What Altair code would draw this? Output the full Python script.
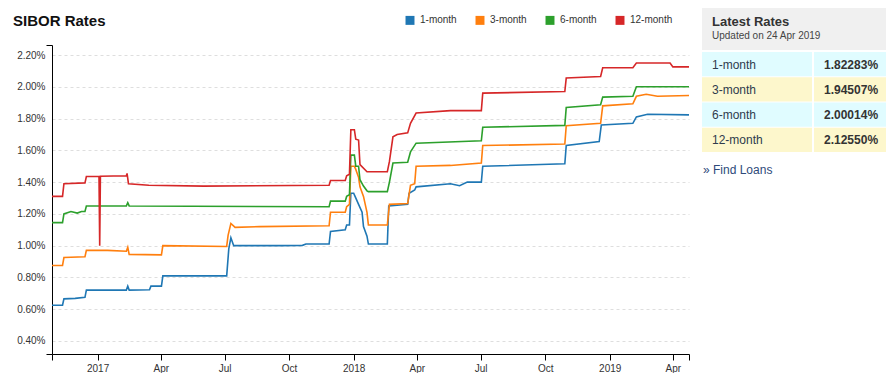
import altair as alt
import pandas as pd

FONT = "Liberation Sans"

series_names = ["1-month", "3-month", "6-month", "12-month"]
series_colors = ["#1f77b4", "#ff7f0e", "#2ca02c", "#d62728"]

blue_dates = ["2016-10-28", "2016-11-12", "2016-11-14", "2016-11-30", "2016-12-14", "2016-12-16",
              "2017-02-11", "2017-02-13", "2017-02-15", "2017-03-16", "2017-03-18", "2017-04-02",
              "2017-04-04", "2017-07-04", "2017-07-07", "2017-07-10", "2017-07-14", "2017-09-20",
              "2017-10-20", "2017-10-25", "2017-11-27", "2017-11-29", "2017-12-20", "2017-12-22",
              "2017-12-26", "2017-12-28", "2018-01-01", "2018-01-03", "2018-01-08", "2018-01-13",
              "2018-01-15", "2018-01-20", "2018-01-22", "2018-02-18", "2018-02-20", "2018-03-19",
              "2018-03-21", "2018-03-29", "2018-03-31", "2018-05-19", "2018-06-01", "2018-06-12",
              "2018-07-02", "2018-07-04", "2018-10-29", "2018-10-31", "2018-12-17", "2018-12-20",
              "2019-02-03", "2019-02-08", "2019-02-24", "2019-04-24"]
blue_vals = [0.625, 0.625, 0.665, 0.668, 0.675, 0.72,
             0.72, 0.745, 0.72, 0.722, 0.745, 0.745,
             0.81, 0.81, 0.98, 1.05, 1.00, 1.00,
             1.002, 1.01, 1.01, 1.09, 1.10, 1.13,
             1.13, 1.33, 1.33, 1.31, 1.26, 1.21,
             1.12, 1.06, 1.01, 1.01, 1.25, 1.26,
             1.33, 1.35, 1.37, 1.39, 1.377, 1.40,
             1.40, 1.50, 1.515, 1.63, 1.655, 1.76,
             1.77, 1.81, 1.827, 1.823]

orange_dates = ["2016-10-28", "2016-11-12", "2016-11-14", "2016-12-14", "2016-12-16", "2017-01-15",
                "2017-02-11", "2017-02-13", "2017-02-15", "2017-04-02", "2017-04-04", "2017-07-04",
                "2017-07-06", "2017-07-10", "2017-07-16", "2017-08-20", "2017-11-27", "2017-11-29",
                "2017-12-20", "2017-12-22", "2017-12-26", "2017-12-28", "2018-01-02", "2018-01-04",
                "2018-01-08", "2018-01-10", "2018-01-15", "2018-01-20", "2018-01-22", "2018-02-18",
                "2018-02-21", "2018-03-19", "2018-03-23", "2018-03-29", "2018-03-31", "2018-05-19",
                "2018-07-02", "2018-07-04", "2018-10-29", "2018-10-31", "2018-12-19", "2018-12-22",
                "2019-02-03", "2019-02-08", "2019-02-22", "2019-03-10", "2019-04-24"]
orange_vals = [0.875, 0.875, 0.925, 0.93, 0.97, 0.97,
               0.965, 0.99, 0.945, 0.942, 1.00, 0.995,
               1.065, 1.14, 1.115, 1.12, 1.125, 1.21,
               1.21, 1.245, 1.26, 1.50, 1.50, 1.48,
               1.43, 1.37, 1.31, 1.21, 1.13, 1.13,
               1.26, 1.265, 1.38, 1.39, 1.50, 1.505,
               1.52, 1.63, 1.64, 1.755, 1.77, 1.88,
               1.893, 1.94, 1.953, 1.94, 1.945]

green_dates = ["2016-10-28", "2016-11-12", "2016-11-14", "2016-11-24", "2016-12-03", "2016-12-09",
               "2016-12-14", "2016-12-16", "2017-02-11", "2017-02-13", "2017-02-15", "2017-11-27",
               "2017-11-29", "2017-12-20", "2017-12-22", "2017-12-26", "2017-12-28", "2018-01-02",
               "2018-01-04", "2018-01-08", "2018-01-10", "2018-01-15", "2018-01-20", "2018-01-22",
               "2018-02-18", "2018-02-21", "2018-02-26", "2018-03-19", "2018-03-23", "2018-03-31",
               "2018-07-02", "2018-07-04", "2018-10-29", "2018-10-31", "2018-12-19", "2018-12-22",
               "2019-02-03", "2019-02-08", "2019-04-24"]
green_vals = [1.145, 1.145, 1.20, 1.215, 1.205, 1.215,
              1.215, 1.25, 1.25, 1.27, 1.25, 1.245,
              1.28, 1.28, 1.31, 1.32, 1.57, 1.57,
              1.50, 1.50, 1.415, 1.375, 1.345, 1.34,
              1.34, 1.40, 1.52, 1.525, 1.59, 1.645,
              1.66, 1.745, 1.757, 1.87, 1.887, 1.935,
              1.94, 2.00, 2.00]

red_dates = ["2016-10-28", "2016-11-12", "2016-11-14", "2016-12-14", "2016-12-16", "2017-01-03",
             "2017-01-04", "2017-01-05", "2017-02-11", "2017-02-12", "2017-02-14", "2017-03-15",
             "2017-06-01", "2017-11-27", "2017-11-29", "2017-12-20", "2017-12-22", "2017-12-26",
             "2017-12-28", "2018-01-02", "2018-01-04", "2018-01-08", "2018-01-10", "2018-01-20",
             "2018-02-18", "2018-02-21", "2018-02-26", "2018-03-04", "2018-03-19", "2018-03-23",
             "2018-03-31", "2018-05-19", "2018-07-02", "2018-07-04", "2018-10-29", "2018-10-31",
             "2018-12-19", "2018-12-22", "2019-02-03", "2019-02-08", "2019-03-28", "2019-04-01",
             "2019-04-24"]
red_vals = [1.31, 1.31, 1.39, 1.395, 1.435, 1.435,
            1.00, 1.437, 1.44, 1.455, 1.39, 1.38,
            1.375, 1.38, 1.41, 1.41, 1.44, 1.45,
            1.73, 1.73, 1.67, 1.665, 1.51, 1.465,
            1.465, 1.53, 1.685, 1.70, 1.71, 1.77,
            1.835, 1.85, 1.85, 1.96, 1.97, 2.055,
            2.065, 2.12, 2.12, 2.15, 2.15, 2.125,
            2.1255]

y_ticks = [0.318, 0.4, 0.6, 0.8, 1.0, 1.2, 1.4, 1.6, 1.8, 2.0, 2.2, 2.263]
x_ticks = ["2016-10-28", "2017-01-01", "2017-04-01", "2017-07-01", "2017-10-01", "2018-01-01",
           "2018-04-01", "2018-07-01", "2018-10-01", "2019-01-01", "2019-04-01", "2019-04-24"]

chart_title = "SIBOR Rates"
panel_title = "Latest Rates"
panel_subtitle = "Updated on 24 Apr 2019"
rate_labels = ["1-month", "3-month", "6-month", "12-month"]
rate_values = [1.82283, 1.94507, 2.00014, 2.12550]
link_text = "» Find Loans"

# ---------- data tables ----------
rows = []
for name, ds, vs in zip(series_names,
                        [blue_dates, orange_dates, green_dates, red_dates],
                        [blue_vals, orange_vals, green_vals, red_vals]):
    for d, v in zip(ds, vs):
        rows.append({"series": name, "date": d, "rate": v})
rates_df = pd.DataFrame(rows)


def dt(s):
    y, m, d = (int(p) for p in s.split("-"))
    return alt.DateTime(year=y, month=m, date=d, utc=True)


ends_test = "datum.value < 0.35 || datum.value > 2.25"

lines = alt.Chart(rates_df).mark_line(strokeWidth=1.6).encode(
    x=alt.X("date:T", title=None,
            scale=alt.Scale(type="utc", domain=[dt(x_ticks[0]), dt(x_ticks[-1])], nice=False),
            axis=alt.Axis(values=[dt(s) for s in x_ticks],
                          labelExpr="utcdate(datum.value) == 1 ? (utcmonth(datum.value) == 0 ? utcFormat(datum.value, '%Y') : utcFormat(datum.value, '%b')) : ''",
                          grid=False, tickSize=6, tickColor="#000", domainColor="#000",
                          labelFont=FONT, labelFontSize=10, labelColor="#333", labelPadding=3,
                          labelOverlap=False, labelFlush=False)),
    y=alt.Y("rate:Q", title=None,
            scale=alt.Scale(domain=[y_ticks[0], y_ticks[-1]], nice=False, zero=False),
            axis=alt.Axis(values=y_ticks,
                          labelExpr=f"({ends_test}) ? '' : format(datum.value, '.2f') + '%'",
                          tickSize=6, tickColor="#000", domainColor="#000",
                          tickOpacity={"condition": {"test": ends_test, "value": 1}, "value": 0},
                          grid=True, gridColor="#dedede", gridDash=[3, 3],
                          gridOpacity={"condition": {"test": ends_test, "value": 0}, "value": 1},
                          labelFont=FONT, labelFontSize=10, labelColor="#333", labelPadding=1,
                          labelOverlap=False, labelFlush=False)),
    color=alt.Color("series:N",
                    scale=alt.Scale(domain=series_names, range=series_colors),
                    legend=alt.Legend(title=None, orient="none", legendX=353, legendY=-30,
                                      direction="horizontal", symbolType="square",
                                      symbolSize=20, symbolStrokeWidth=4.5, symbolOpacity=1,
                                      labelFont=FONT, labelFontSize=10, labelColor="#333",
                                      labelOffset=5, columnPadding=11)),
)

title_text = alt.Chart(pd.DataFrame({"t": [chart_title]})).mark_text(
    align="left", baseline="alphabetic", font=FONT, fontSize=15, fontWeight="bold", color="#111"
).encode(x=alt.value(-39), y=alt.value(-19), text="t:N")

# ---------- right panel ----------
header_box = alt.Chart(pd.DataFrame({"t": [panel_title]})).mark_rect(fill="#f0f0f0").encode(
    x=alt.value(650), x2=alt.value(834), y=alt.value(-38), y2=alt.value(5))

header_title = alt.Chart(pd.DataFrame({"t": [panel_title]})).mark_text(
    align="left", baseline="alphabetic", font=FONT, fontSize=13, fontWeight="bold", color="#333"
).encode(x=alt.value(660), y=alt.value(-19.5), text="t:N")

header_sub = alt.Chart(pd.DataFrame({"t": [panel_subtitle]})).mark_text(
    align="left", baseline="alphabetic", font=FONT, fontSize=10, color="#444"
).encode(x=alt.value(660), y=alt.value(-6.5), text="t:N")

rows_df = pd.DataFrame({"label": rate_labels, "value": rate_values})
row_scale = alt.Scale(domain=rate_labels, range=[7, 107], paddingInner=0.04, paddingOuter=0)
row_fill = alt.Fill("label:N", legend=None,
                    scale=alt.Scale(domain=rate_labels,
                                    range=["#e0fcff", "#fdf7cc", "#e0fcff", "#fdf7cc"]))

cells_left = alt.Chart(rows_df).mark_rect().encode(
    x=alt.value(650), x2=alt.value(760),
    y=alt.Y("label:N", scale=row_scale, axis=None), fill=row_fill)
cells_right = alt.Chart(rows_df).mark_rect().encode(
    x=alt.value(762), x2=alt.value(834),
    y=alt.Y("label:N", scale=row_scale, axis=None), fill=row_fill)

label_text = alt.Chart(rows_df).mark_text(
    align="left", baseline="middle", font=FONT, fontSize=12, color="#2f3b4c"
).encode(x=alt.value(660),
         y=alt.Y("label:N", scale=row_scale, axis=None, bandPosition=0.5),
         text="label:N")

value_text = alt.Chart(rows_df).transform_calculate(
    txt="format(datum.value, '.5f') + '%'"
).mark_text(
    align="left", baseline="middle", font=FONT, fontSize=12, fontWeight="bold", color="#333"
).encode(x=alt.value(772),
         y=alt.Y("label:N", scale=row_scale, axis=None, bandPosition=0.5),
         text="txt:N")

link = alt.Chart(pd.DataFrame({"t": [link_text]})).mark_text(
    align="left", baseline="middle", font=FONT, fontSize=12, color="#2e4a7a"
).encode(x=alt.value(651), y=alt.value(125), text="t:N")

chart = alt.layer(
    lines, title_text, header_box, header_title, header_sub,
    cells_left, cells_right, label_text, value_text, link
).resolve_scale(
    y="independent"
).properties(
    width=637, height=309,
    autosize=alt.AutoSizeParams(type="none"),
    padding={"left": 44, "top": 37, "right": 197, "bottom": 19},
).configure_view(strokeWidth=0)

chart.save("out.html", embed_options={"renderer": "svg", "actions": False})
